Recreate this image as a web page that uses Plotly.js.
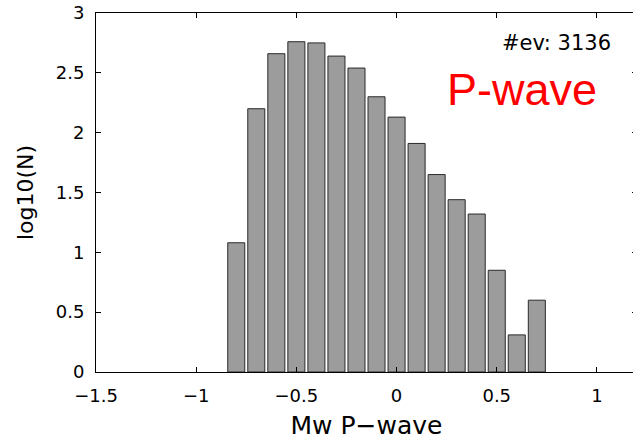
<!DOCTYPE html>
<html>
<head>
<meta charset="utf-8">
<script src="https://cdn.plot.ly/plotly-3.0.1.min.js"></script>
<style>
html, body { margin: 0; padding: 0; overflow: hidden; background: #fff; }
#chart { width: 640px; height: 440px; }
</style>
</head>
<body>
<div id="chart"></div>
<script>
// Magnitude bin centres (Mw P-wave)
const binCenters = [-0.8, -0.7, -0.6, -0.5, -0.4, -0.3, -0.2, -0.1, 0.0, 0.1, 0.2, 0.3, 0.4, 0.5, 0.6, 0.7];
// log10 of event counts per bin
const logCounts = [1.08, 2.20, 2.66, 2.76, 2.75, 2.64, 2.54, 2.30, 2.13, 1.91, 1.65, 1.44, 1.32, 0.85, 0.31, 0.60];
const xTickVals = [-1.5, -1, -0.5, 0, 0.5, 1];
const yTickVals = [0, 0.5, 1, 1.5, 2, 2.5, 3];
const eventLabel = "#ev: 3136";
const waveLabel = "P-wave";

const trace = {
  type: 'bar',
  x: binCenters,
  y: logCounts,
  width: 0.085,
  marker: { color: '#9c9c9c', line: { color: '#2a2a2a', width: 1 } },
  hoverinfo: 'none'
};

const axisCommon = {
  showline: true, linecolor: '#000', linewidth: 1, mirror: 'ticks',
  ticks: 'inside', ticklen: 5, tickcolor: '#000', tickwidth: 1,
  showgrid: false, zeroline: false,
  tickfont: { family: 'DejaVu Sans', size: 18, color: '#000' }
};

const layout = {
  width: 640, height: 440,
  margin: { l: 96, r: 3, t: 13, b: 68 },
  paper_bgcolor: '#fff', plot_bgcolor: '#fff',
  showlegend: false,
  xaxis: Object.assign({}, axisCommon, {
    range: [-1.5, 1.2], tickmode: 'array', tickvals: xTickVals,
    ticklabelstandoff: 7,
    title: { text: 'Mw P\u2212wave', font: { family: 'DejaVu Sans', size: 25, color: '#000' }, standoff: 12 }
  }),
  yaxis: Object.assign({}, axisCommon, {
    range: [0, 3], tickmode: 'array', tickvals: yTickVals,
    ticklabelstandoff: 7,
    title: { text: 'log10(N)', font: { family: 'DejaVu Sans', size: 22, color: '#000' }, standoff: 16 }
  }),
  annotations: [
    { text: eventLabel, xref: 'paper', yref: 'paper', x: (613 - 96) / 541, y: (372 - 43) / 359,
      xanchor: 'right', yanchor: 'middle', showarrow: false,
      font: { family: 'DejaVu Sans', size: 21, color: '#000' } },
    { text: waveLabel, xref: 'paper', yref: 'paper', x: (599 - 96) / 541, y: (372 - 89) / 359,
      xanchor: 'right', yanchor: 'middle', showarrow: false,
      font: { family: 'Liberation Sans', size: 45, color: '#ff0000' } }
  ]
};

Plotly.newPlot('chart', [trace], layout, { displayModeBar: false, staticPlot: true });
</script>
</body>
</html>
